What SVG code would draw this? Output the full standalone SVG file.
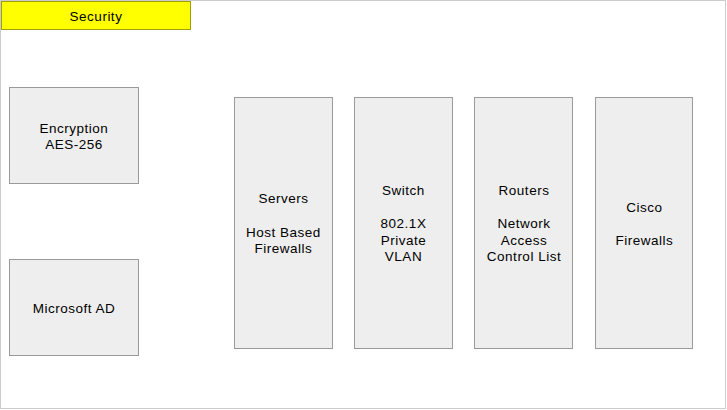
<svg xmlns="http://www.w3.org/2000/svg" width="727" height="410" viewBox="0 0 727 410">
<style>
text{font-family:"Liberation Sans",Arial,sans-serif;font-size:13.5px;letter-spacing:0.5px;fill:#000;text-anchor:middle}
.n{fill:#eeeeee;stroke:#9a9a9a;stroke-width:1}
</style>
<rect x="0.5" y="0.5" width="725" height="408" fill="#ffffff" stroke="#cccccc"/>
<g id="security">
<rect x="1.5" y="1.5" width="189" height="28" fill="#ffff00" stroke="#a0a000"/>
<text x="96" y="20.5">Security</text>
</g>
<g id="encryption">
<rect class="n" x="9.5" y="87.5" width="129" height="96"/>
<text x="74" y="132.5">Encryption</text>
<text x="74" y="149">AES-256</text>
</g>
<g id="microsoft-ad">
<rect class="n" x="9.5" y="259.5" width="129" height="96"/>
<text x="74" y="313">Microsoft AD</text>
</g>
<g id="servers">
<rect class="n" x="234.5" y="97.5" width="98" height="251"/>
<text x="283.5" y="203">Servers</text>
<text x="283.5" y="236.5">Host Based</text>
<text x="283.5" y="253">Firewalls</text>
</g>
<g id="switch">
<rect class="n" x="354.5" y="97.5" width="98" height="251"/>
<text x="403.5" y="194.5">Switch</text>
<text x="403.5" y="228">802.1X</text>
<text x="403.5" y="244.5">Private</text>
<text x="403.5" y="261">VLAN</text>
</g>
<g id="routers">
<rect class="n" x="474.5" y="97.5" width="98" height="251"/>
<text x="524" y="194.5">Routers</text>
<text x="524" y="228">Network</text>
<text x="524" y="244.5">Access</text>
<text x="524" y="261">Control List</text>
</g>
<g id="cisco">
<rect class="n" x="595.5" y="97.5" width="97" height="251"/>
<text x="644.5" y="211.5">Cisco</text>
<text x="644.5" y="245">Firewalls</text>
</g>
<g id="connectors"></g>
</svg>
